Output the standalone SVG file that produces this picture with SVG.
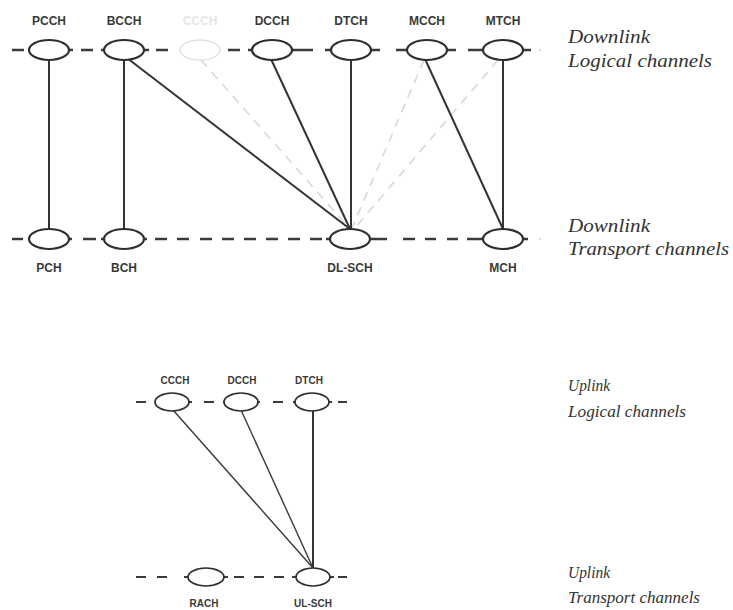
<svg xmlns="http://www.w3.org/2000/svg" width="733" height="610" viewBox="0 0 733 610">
  <style>
    .bg { fill: #ffffff; }
    .ch { fill: #ffffff; stroke: #2e2e2e; stroke-width: 2.2; }
    .ch-s { fill: #ffffff; stroke: #2e2e2e; stroke-width: 1.7; }
    .ch-faint { fill: #ffffff; stroke: #e0e0e0; stroke-width: 1.5; }
    .dash { stroke: #3a3a3a; stroke-width: 2.6; fill: none; }
    .dash-s { stroke: #3a3a3a; stroke-width: 2.2; fill: none; }
    .map { stroke: #333333; stroke-width: 2; fill: none; }
    .map-s { stroke: #3a3a3a; stroke-width: 1.4; fill: none; }
    .map-faint { stroke: #d8d8d8; stroke-width: 1.6; fill: none; stroke-dasharray: 9 7; }
    .lbl { font-family: "Liberation Sans", Arial, sans-serif; font-size: 12px; font-weight: bold; fill: #3a3a3a; text-anchor: middle; }
    .lbl-s { font-family: "Liberation Sans", Arial, sans-serif; font-size: 10px; font-weight: bold; fill: #3a3a3a; text-anchor: middle; }
    .lbl-faint { fill: #e6e6e6; }
    .side { font-family: "Liberation Serif", "Times New Roman", serif; font-style: italic; font-size: 19px; fill: #333333; }
    .side-s { font-family: "Liberation Serif", "Times New Roman", serif; font-style: italic; font-size: 16.5px; fill: #333333; }
  </style>

  <rect class="bg" x="0" y="0" width="733" height="610"/>

  <!-- channel rows (dashed baselines) -->
  <g id="rows">
    <path class="dash" d="M12 50H24 M69 50H73 M81 50H93 M101 50H105 M145 50H149 M156 50H168 M228 50H240 M248 50H252 M292 50H313 M325 50H331 M371 50H380 M396 50H407 M447 50H456 M468 50H483 M523 50H531"/>
    <path d="M180 50H183 M217 50H220" stroke="#e2e2e2" stroke-width="2"/>
    <circle cx="540" cy="50" r="1" fill="#cfcfcf"/>
    <path class="dash" d="M12 239H23 M69 239H72 M83 239H96 M101 239H104 M144 239H147 M155 239H167 M177 239H189 M200 239H212 M222 239H234 M244 239H256 M266 239H278 M288 239H300 M310 239H322 M326 239H330 M370 239H387 M403 239H415 M425 239H436 M447 239H458 M467 239H483 M523 239H528"/>
    <circle cx="540" cy="239" r="1" fill="#cfcfcf"/>
    <path class="dash-s" d="M136 402H146 M188 402H192 M204 402H214 M223 402H225 M257 402H260 M273 402H283 M293 402H295 M329 402H332 M338 402H347"/>
    <path class="dash-s" d="M136 577H146 M157 577H167 M184 577H188 M224 577H228 M234 577H244 M254 577H264 M274 577H284 M292 577H296 M330 577H334 M338 577H347"/>
  </g>

  <!-- mappings between logical and transport channels -->
  <g id="connectors">
    <path class="map-faint" d="M201 60L349 228"/>
    <path class="map-faint" d="M424 60L352 228"/>
    <path class="map-faint" d="M498 60L355 228"/>
    <path class="map" d="M49 60V229"/>
    <path class="map" d="M124 60V229"/>
    <path class="map" d="M127 58L350 229"/>
    <path class="map" d="M271 59L350 229"/>
    <path class="map" d="M351 60V229"/>
    <path class="map" d="M425 59L503 229"/>
    <path class="map" d="M503 60V229"/>
    <path class="map-s" d="M173 410L313 568"/>
    <path class="map-s" d="M241 410L313 568"/>
    <path class="map" d="M313 411V568"/>
  </g>

  <!-- downlink logical channels -->
  <g id="pcch"><ellipse class="ch" cx="49" cy="50" rx="20" ry="10"/><text class="lbl" x="49" y="25">PCCH</text></g>
  <g id="bcch"><ellipse class="ch" cx="124" cy="50" rx="20" ry="10"/><text class="lbl" x="124" y="25">BCCH</text></g>
  <g id="ccch-dl"><ellipse class="ch-faint" cx="200" cy="50" rx="20" ry="10"/><text class="lbl lbl-faint" x="200" y="25">CCCH</text></g>
  <g id="dcch-dl"><ellipse class="ch" cx="272" cy="50" rx="20" ry="10"/><text class="lbl" x="272" y="25">DCCH</text></g>
  <g id="dtch-dl"><ellipse class="ch" cx="351" cy="50" rx="20" ry="10"/><text class="lbl" x="351" y="25">DTCH</text></g>
  <g id="mcch"><ellipse class="ch" cx="427" cy="50" rx="20" ry="10"/><text class="lbl" x="427" y="25">MCCH</text></g>
  <g id="mtch"><ellipse class="ch" cx="503" cy="50" rx="20" ry="10"/><text class="lbl" x="503" y="25">MTCH</text></g>

  <!-- downlink transport channels -->
  <g id="pch"><ellipse class="ch" cx="49" cy="239" rx="20" ry="10"/><text class="lbl" x="49" y="272">PCH</text></g>
  <g id="bch"><ellipse class="ch" cx="124" cy="239" rx="20" ry="10"/><text class="lbl" x="124" y="272">BCH</text></g>
  <g id="dl-sch"><ellipse class="ch" cx="350" cy="239" rx="20" ry="10"/><text class="lbl" x="350" y="272">DL-SCH</text></g>
  <g id="mch"><ellipse class="ch" cx="503" cy="239" rx="20" ry="10"/><text class="lbl" x="503" y="272">MCH</text></g>

  <!-- uplink logical channels -->
  <g id="ccch-ul"><ellipse class="ch-s" cx="172" cy="402" rx="17" ry="9"/><text class="lbl-s" x="175" y="384">CCCH</text></g>
  <g id="dcch-ul"><ellipse class="ch-s" cx="241" cy="402" rx="17" ry="9"/><text class="lbl-s" x="242" y="384">DCCH</text></g>
  <g id="dtch-ul"><ellipse class="ch-s" cx="312" cy="402" rx="17" ry="9"/><text class="lbl-s" x="309" y="384">DTCH</text></g>

  <!-- uplink transport channels -->
  <g id="rach"><ellipse class="ch-s" cx="206" cy="577" rx="18" ry="9"/><text class="lbl-s" x="204" y="607">RACH</text></g>
  <g id="ul-sch"><ellipse class="ch-s" cx="313" cy="577" rx="17" ry="9"/><text class="lbl-s" x="313" y="607">UL-SCH</text></g>

  <!-- row captions -->
  <g id="captions">
    <text class="side" x="568" y="43" textLength="82" lengthAdjust="spacingAndGlyphs">Downlink</text>
    <text class="side" x="568" y="67" textLength="144" lengthAdjust="spacingAndGlyphs">Logical channels</text>
    <text class="side" x="568" y="232" textLength="82" lengthAdjust="spacingAndGlyphs">Downlink</text>
    <text class="side" x="568" y="255" textLength="161" lengthAdjust="spacingAndGlyphs">Transport channels</text>
    <text class="side-s" x="568" y="391" textLength="42" lengthAdjust="spacingAndGlyphs">Uplink</text>
    <text class="side-s" x="568" y="417" textLength="118" lengthAdjust="spacingAndGlyphs">Logical channels</text>
    <text class="side-s" x="568" y="578" textLength="42" lengthAdjust="spacingAndGlyphs">Uplink</text>
    <text class="side-s" x="568" y="603" textLength="132" lengthAdjust="spacingAndGlyphs">Transport channels</text>
  </g>
</svg>
